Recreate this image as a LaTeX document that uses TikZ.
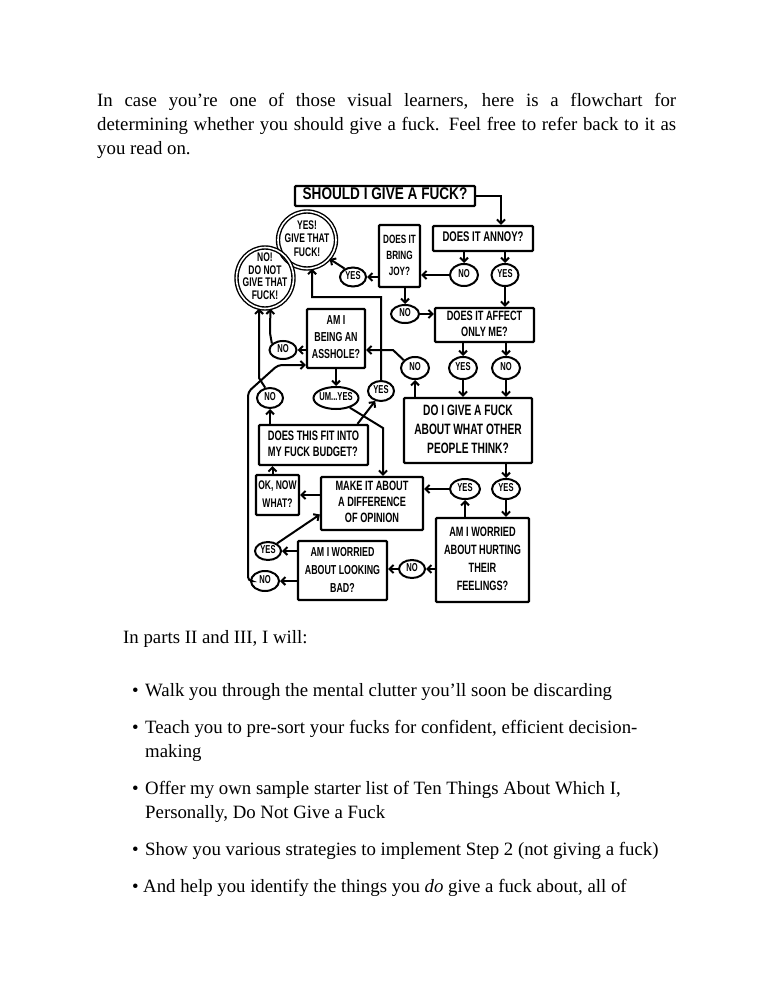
\documentclass[tikz,border=0pt]{standalone}
\usepackage{fontspec}
\setmainfont{Liberation Serif}
\newfontfamily\hwfont{Liberation Sans}
\usepackage{graphicx}
\usetikzlibrary{arrows.meta,shapes.geometric,calc}
\newcommand{\hw}[4]{{\hwfont\bfseries\fontsize{#1}{#2}\selectfont\scalebox{#3}[1]{\begin{tabular}{@{}c@{}}#4\end{tabular}}}}
\newcommand{\hwl}[4]{{\hwfont\bfseries\fontsize{#1}{#2}\selectfont\scalebox{#3}[1]{\begin{tabular}{@{}l@{}}#4\end{tabular}}}}
\newcommand{\ans}[1]{\hw{11.5}{12}{0.66}{#1}}
\tikzset{
  box/.style={draw, line width=2.3pt, rectangle, inner sep=0pt, rounded corners=1pt},
  ell/.style={draw, line width=2pt, ellipse, inner sep=-3pt},
  dell/.style={draw, line width=1.4pt, double, double distance=1.6pt, ellipse, inner sep=-7pt},
  arr/.style={line width=2pt, -{Straight Barb[length=4pt,width=8pt]}},
  body/.style={anchor=base west, inner sep=0pt, font=\fontsize{18.8}{24}\selectfont},
  sm/.style={ell}
}
\begin{document}
\begin{tikzpicture}[x=1pt,y=-1pt]
\useasboundingbox (0,0) rectangle (772,1000);
\fill[white] (0,0) rectangle (772,1000);

% top paragraph
\node[body] (p1) at (97,107) {\makebox[579pt][s]{In case you’re one of those visual learners, here is a flowchart for}};
\node[body] (p2) at (97,131) {\makebox[579pt][s]{determining whether you should give a fuck. Feel free to refer back to it as}};
\node[body] (p3) at (97,155) {you read on.};

% flowchart boxes
\node[box, minimum width=180pt, minimum height=20pt] (top) at (385,196) {\hw{17}{18}{0.8}{SHOULD I GIVE A FUCK?}};
\node[box, minimum width=100pt, minimum height=25pt] (annoy) at (483,238.5) {\hw{14}{16}{0.68}{DOES IT ANNOY?}};
\node[box, minimum width=41pt, minimum height=62pt] (joy) at (399.5,256) {\hw{12}{16}{0.68}{DOES IT\\BRING\\JOY?}};
\node[box, minimum width=99pt, minimum height=34pt] (affect) at (484.5,325) {\hw{13.5}{16}{0.68}{DOES IT AFFECT\\ONLY ME?}};
\node[box, minimum width=58pt, minimum height=59pt] (asshole) at (336,338.5) {\hw{13}{17}{0.68}{AM I\\BEING AN\\ASSHOLE?}};
\node[box, minimum width=128pt, minimum height=65pt] (dogive) at (468,430.5) {\hw{15}{19}{0.68}{DO I GIVE A FUCK\\ABOUT WHAT OTHER\\PEOPLE THINK?}};
\node[box, minimum width=109pt, minimum height=40pt] (budget) at (313.5,445) {\hwl{13.7}{16}{0.68}{DOES THIS FIT INTO\\MY FUCK BUDGET?}};
\node[box, minimum width=43pt, minimum height=40pt] (oknow) at (277.5,495) {\hw{12.5}{18}{0.68}{OK, NOW\\WHAT?}};
\node[box, minimum width=102pt, minimum height=53pt] (opinion) at (372,503.5) {\hw{13.5}{16}{0.68}{MAKE IT ABOUT\\A DIFFERENCE\\OF OPINION}};
\node[box, minimum width=93pt, minimum height=84pt] (hurting) at (482.5,560) {\hw{13.5}{18}{0.68}{AM I WORRIED\\ABOUT HURTING\\THEIR\\FEELINGS?}};
\node[box, minimum width=89pt, minimum height=59pt] (looking) at (342.5,570.5) {\hw{13}{18}{0.68}{AM I WORRIED\\ABOUT LOOKING\\BAD?}};

% terminal ellipses
\node[dell, minimum width=58pt, minimum height=57pt] (yesgive) at (307,240) {\hw{12.5}{13.5}{0.68}{YES!\\GIVE THAT\\FUCK!}};
\node[dell, minimum width=57pt, minimum height=61pt] (nogive) at (265,278) {\hw{12.5}{12.5}{0.68}{NO!\\DO NOT\\GIVE THAT\\FUCK!}};

% answer ellipses
\node[sm, minimum width=28pt, minimum height=22pt] (annoyNo) at (464,275) {\ans{NO}};
\node[sm, minimum width=27pt, minimum height=22pt] (annoyYes) at (505,275) {\ans{YES}};
\node[sm, minimum width=26pt, minimum height=19pt] (joyYes) at (353,277) {\ans{YES}};
\node[sm, minimum width=28pt, minimum height=18pt] (joyNo) at (405,314) {\ans{NO}};
\node[sm, minimum width=28pt, minimum height=22pt] (affYes) at (463,368) {\ans{YES}};
\node[sm, minimum width=28pt, minimum height=22pt] (affNo) at (506,368) {\ans{NO}};
\node[sm, minimum width=28pt, minimum height=22pt] (dgNo) at (415,368) {\ans{NO}};
\node[sm, minimum width=27pt, minimum height=18pt] (assNo) at (283,350) {\ans{NO}};
\node[sm, minimum width=45pt, minimum height=22pt, inner sep=-7pt] (umyes) at (336,398) {\ans{UM...YES}};
\node[sm, minimum width=26pt, minimum height=20pt] (budNo) at (270,398) {\ans{NO}};
\node[sm, minimum width=26pt, minimum height=20pt] (budYes) at (381,391) {\ans{YES}};
\node[sm, minimum width=30pt, minimum height=20pt] (opYes) at (465,489) {\ans{YES}};
\node[sm, minimum width=28pt, minimum height=20pt] (dgYes) at (506,489) {\ans{YES}};
\node[sm, minimum width=26pt, minimum height=18pt] (hurtNo) at (412,569) {\ans{NO}};
\node[sm, minimum width=26pt, minimum height=18pt] (lookYes) at (268,551) {\ans{YES}};
\node[sm, minimum width=28pt, minimum height=20pt] (lookNo) at (265,581) {\ans{NO}};

% routing points
\coordinate (j1) at (393,350);
\coordinate (j2) at (270,333);
\coordinate (j3) at (259,378);
\coordinate (j4) at (312,297);
\coordinate (j5) at (383,428);
\coordinate (j7) at (248,392);
\coordinate (j8) at (278,365);

% connectors
\draw[arr] (top.east) -| ([xshift=18pt]annoy.north);
\draw[arr] (annoy.south -| annoyNo.north) -- (annoyNo.north);
\draw[arr] (annoy.south -| annoyYes.north) -- (annoyYes.north);
\draw[arr] (annoyNo.west) -- (annoyNo.west -| joy.east);
\draw[arr] (annoyYes.south) -- (annoyYes.south |- affect.north);
\draw[arr] (joy.west |- joyYes.east) -- (joyYes.east);
\draw[arr] (joyYes.135) -- (yesgive.-40);
\draw[arr] (joy.south -| joyNo.north) -- (joyNo.north);
\draw[arr] (joyNo.east) -- (joyNo.east -| affect.west);
\draw[arr] (affect.south -| affYes.north) -- (affYes.north);
\draw[arr] (affect.south -| affNo.north) -- (affNo.north);
\draw[arr] (affYes.south) -- (affYes.south |- dogive.north);
\draw[arr] (affNo.south) -- (affNo.south |- dogive.north);
\draw[arr] (dogive.north -| dgNo.south) -- (dgNo.south);
\draw[arr] (dgNo.145) -- (j1) -- (j1 -| asshole.east);
\draw[arr] (asshole.south) -- (umyes.north);
\draw[arr] (assNo.east -| asshole.west) -- (assNo.east);
\draw[arr] (assNo.150) -- (j2) -- (nogive.-80);
\draw[arr] (budget.north -| budNo.south) -- (budNo.south);
\draw[arr] (budNo.115) -- (j3) -- (nogive.-101);
\draw[arr] ([xshift=44pt]budget.north) -- (budYes.-120);
\draw[arr] (budYes.north) |- (j4) -- (yesgive.-80);
\draw[arr] (umyes.-35) -- (j5) -- (j5 |- opinion.north);
\draw[arr] ([xshift=-5pt]oknow.north) -- ([xshift=-5pt]oknow.north |- budget.south);
\draw[arr] (opinion.west |- oknow.east) -- (oknow.east);
\draw[arr] (lookYes.40) -- ([yshift=-11pt]opinion.west);
\draw[arr] (dogive.south -| dgYes.north) -- (dgYes.north);
\draw[arr] (dgYes.south) -- (dgYes.south |- hurting.north);
\draw[arr] (hurting.north -| opYes.south) -- (opYes.south);
\draw[arr] (opYes.west) -- (opYes.west -| opinion.east);
\draw[arr] (hurting.west |- hurtNo.east) -- (hurtNo.east);
\draw[arr] (hurtNo.west) -- (hurtNo.west -| looking.east);
\draw[arr] (looking.west |- lookYes.east) -- (lookYes.east);
\draw[arr] (looking.west |- lookNo.east) -- (lookNo.east);
\draw[arr, rounded corners=4pt] (lookNo.west) -| (j7) -- (j8) -- (j8 -| asshole.west);

% bottom text
\node[body] (q0) at (123,643) {In parts II and III, I will:};
\node[body] (b1) at (132,696) {\textbullet};
\node[body] (t1) at (145,696) {Walk you through the mental clutter you’ll soon be discarding};
\node[body] (b2) at (132,733) {\textbullet};
\node[body] (t2) at (145,733) {Teach you to pre-sort your fucks for confident, efficient decision-};
\node[body] (t2b) at (145,757) {making};
\node[body] (b3) at (132,794) {\textbullet};
\node[body] (t3) at (145,794) {Offer my own sample starter list of Ten Things About Which I,};
\node[body] (t3b) at (145,818) {Personally, Do Not Give a Fuck};
\node[body] (b4) at (132,855) {\textbullet};
\node[body] (t4) at (145,855) {Show you various strategies to implement Step 2 (not giving a fuck)};
\node[body] (b5) at (132,892) {\textbullet};
\node[body] (t5) at (143,892) {And help you identify the things you \textit{do} give a fuck about, all of};
\end{tikzpicture}
\end{document}
